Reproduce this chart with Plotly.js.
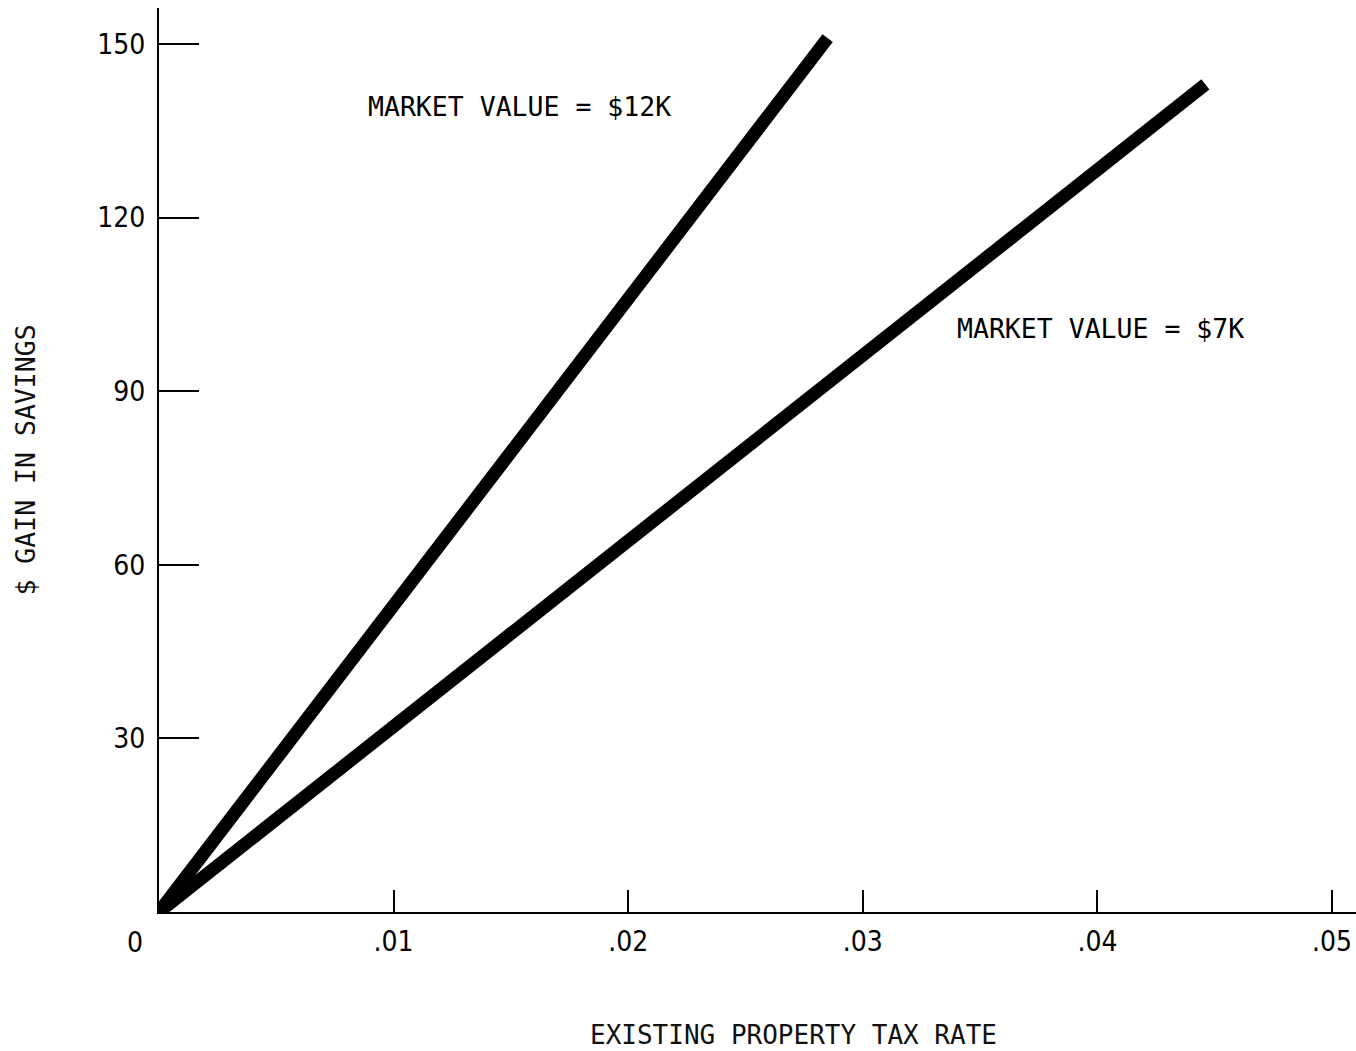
<!DOCTYPE html>
<html>
<head>
<meta charset="utf-8">
<script src="https://cdn.plot.ly/plotly-3.0.1.min.js"></script>
<style>html,body{margin:0;padding:0;background:#fff;}</style>
</head>
<body>
<div id="chart" style="width:1356px;height:1051px;"></div>
<script>
// Series: $ gain in savings vs existing property tax rate (straight lines from origin)
const seriesNames = ["MARKET VALUE = $12K", "MARKET VALUE = $7K"];
const taxRate12K = [0, 0.0285];
const gain12K = [0, 151];
const taxRate7K = [0, 0.0446];
const gain7K = [0, 143];

// Axis ticks
const xTickVals = [0.01, 0.02, 0.03, 0.04, 0.05];
const xTickText = [".01", ".02", ".03", ".04", ".05"];
const yTickVals = [30, 60, 90, 120, 150];
const yTickText = ["30", "60", "90", "120", "150"];

// Label positions (data coordinates)
const labelX = [0.00882, 0.03393];
const labelY = [139.1, 100.9];

const lineStyle = {color: "#000", width: 13};
const traces = [
  {x: taxRate12K, y: gain12K, mode: "lines", name: seriesNames[0], line: lineStyle, hoverinfo: "none"},
  {x: taxRate7K, y: gain7K, mode: "lines", name: seriesNames[1], line: lineStyle, hoverinfo: "none"}
];

const mono = "DejaVu Sans Mono, monospace";
const narrow = "Liberation Sans Narrow, DejaVu Sans Condensed, Arial Narrow, sans-serif";

const annotations = seriesNames.map((t, i) => ({
  x: labelX[i], y: labelY[i], xref: "x", yref: "y", text: t, showarrow: false,
  xanchor: "left", yanchor: "middle", font: {family: mono, size: 26.5, color: "#000"}
}));
annotations.push({
  x: 0, y: 0, xref: "x", yref: "y", text: "0", showarrow: false,
  xanchor: "center", yanchor: "middle", xshift: -24, yshift: -30,
  font: {family: narrow, size: 28, color: "#000"}
});
annotations.push({
  x: (793 - 159) / 1197, y: (912 - 1035) / 904, xref: "paper", yref: "paper",
  text: "EXISTING PROPERTY TAX RATE",
  showarrow: false, xanchor: "center", yanchor: "middle",
  font: {family: mono, size: 26, color: "#111"}
});

const layout = {
  width: 1356, height: 1051,
  margin: {l: 159, r: 0, t: 8, b: 139},
  paper_bgcolor: "#fff", plot_bgcolor: "#fff",
  showlegend: false,
  xaxis: {
    range: [0, 0.05102], showgrid: false, zeroline: false,
    showline: true, linecolor: "#000", linewidth: 2, mirror: false,
    tickmode: "array", tickvals: xTickVals, ticktext: xTickText,
    ticks: "inside", ticklen: 22, tickwidth: 2, tickcolor: "#000",
    ticklabelstandoff: 3,
    tickfont: {family: narrow, size: 28, color: "#000"}
  },
  yaxis: {
    range: [0, 156.2], showgrid: false, zeroline: false,
    showline: true, linecolor: "#000", linewidth: 2, mirror: false,
    tickmode: "array", tickvals: yTickVals, ticktext: yTickText,
    ticks: "inside", ticklen: 40, tickwidth: 2, tickcolor: "#000",
    ticklabelstandoff: 6,
    tickfont: {family: narrow, size: 28, color: "#000"},
    title: {text: "$ GAIN IN SAVINGS", standoff: 54, font: {family: mono, size: 26.5, color: "#111"}}
  },
  annotations: annotations
};

Plotly.newPlot("chart", traces, layout, {displayModeBar: false, staticPlot: true});
</script>
</body>
</html>
